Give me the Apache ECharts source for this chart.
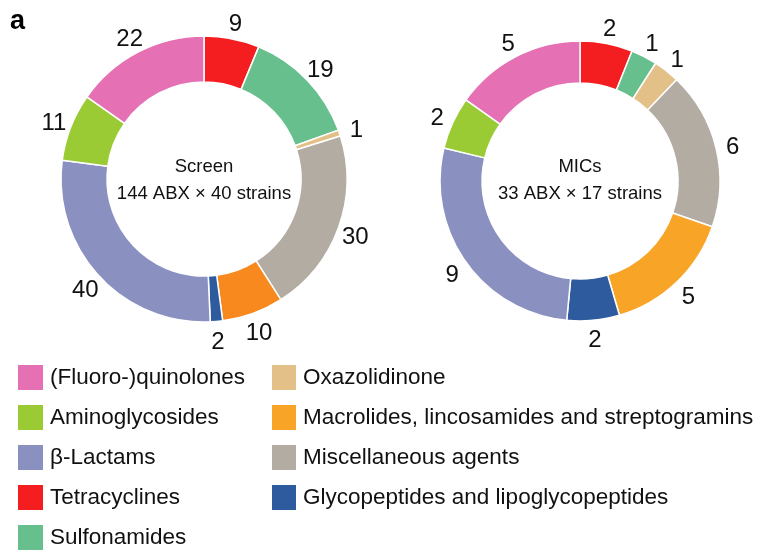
<!DOCTYPE html>
<html><head><meta charset="utf-8">
<script src="https://cdn.jsdelivr.net/npm/echarts@6/dist/echarts.min.js"></script>
<style>html,body{margin:0;padding:0;background:#fff}#c{width:768px;height:558px}</style>
</head><body><div id="c"></div>
<script>
const categories = ['Tetracyclines','Sulfonamides','Oxazolidinone','Miscellaneous agents','Macrolides, lincosamides and streptogramins','Glycopeptides and lipoglycopeptides','β-Lactams','Aminoglycosides','(Fluoro-)quinolones'];
const screenValues = [9,19,1,30,10,2,40,11,22];
const micValues = [2,1,1,6,5,2,9,2,5];
const colors = ['#F41D1F','#68BF8E','#E4C089','#B2ACA3','#F7891F','#2E5B9D','#8A90C0','#9ACB35','#E570B4'];
const micColors = ['#F41D1F','#68BF8E','#E4C089','#B2ACA3','#F7A427','#2E5B9D','#8A90C0','#9ACB35','#E570B4'];
const legendCol1 = ['(Fluoro-)quinolones','Aminoglycosides','β-Lactams','Tetracyclines','Sulfonamides'];
const legendCol2 = ['Oxazolidinone','Macrolides, lincosamides and streptogramins','Miscellaneous agents','Glycopeptides and lipoglycopeptides'];
const FONT = '"Liberation Sans", Arial, sans-serif';

function pieSeries(name, vals, cols, center, radius, labelGap){
  return {
    name, type:'pie', center, radius, startAngle:90, clockwise:true,
    avoidLabelOverlap:false, animation:false,
    itemStyle:{borderColor:'#fff', borderWidth:1.5},
    label:{show:true, position:'outside', formatter:'{c}', fontSize:24, color:'#111', fontFamily:FONT, distanceToLabelLine:0},
    labelLine:{show:true, length:labelGap, length2:0, lineStyle:{width:0, opacity:0}},
    labelLayout: function(p){
      const pts = p.labelLinePoints;
      if(!pts) return {};
      return {x: pts[1][0], y: pts[1][1] + 3, align:'center', verticalAlign:'middle'};
    },
    emphasis:{disabled:true},
    data: categories.map((c,i)=>({name:c, value:vals[i], itemStyle:{color:cols[i]}}))
  };
}
const chart = echarts.init(document.getElementById('c'));
chart.setOption({
  backgroundColor:'#fff',
  textStyle:{fontFamily:FONT},
  title:[
    {text:'a', left:10, top:8, padding:0, textStyle:{fontSize:27, fontWeight:'bold', color:'#000', fontFamily:FONT}},
    {text:'Screen\n144 ABX × 40 strains', left:204, top:153, padding:0, textAlign:'center', textStyle:{fontSize:18.5, fontWeight:'normal', color:'#111', lineHeight:27, fontFamily:FONT}},
    {text:'MICs\n33 ABX × 17 strains', left:580, top:153, padding:0, textAlign:'center', textStyle:{fontSize:18.5, fontWeight:'normal', color:'#111', lineHeight:27, fontFamily:FONT}}
  ],
  legend:[
    {data:legendCol1, orient:'vertical', left:16, top:363, padding:0, itemWidth:27, itemHeight:27, itemGap:11, icon:'rect', selectedMode:false,
     textStyle:{fontSize:22.5, lineHeight:27, color:'#111', fontFamily:FONT, padding:[0,0,0,1]}},
    {data:legendCol2, orient:'vertical', left:270, top:363, padding:0, itemWidth:26, itemHeight:27, itemGap:11, icon:'rect', selectedMode:false,
     textStyle:{fontSize:22.5, lineHeight:27, color:'#111', fontFamily:FONT, padding:[0,0,0,1]}}
  ],
  series:[
    pieSeries('MICs', micValues, micColors, [580,181], [98,140], 17),
    pieSeries('Screen', screenValues, colors, [204,179], [97,143], 18)
  ]
});
</script></body></html>
